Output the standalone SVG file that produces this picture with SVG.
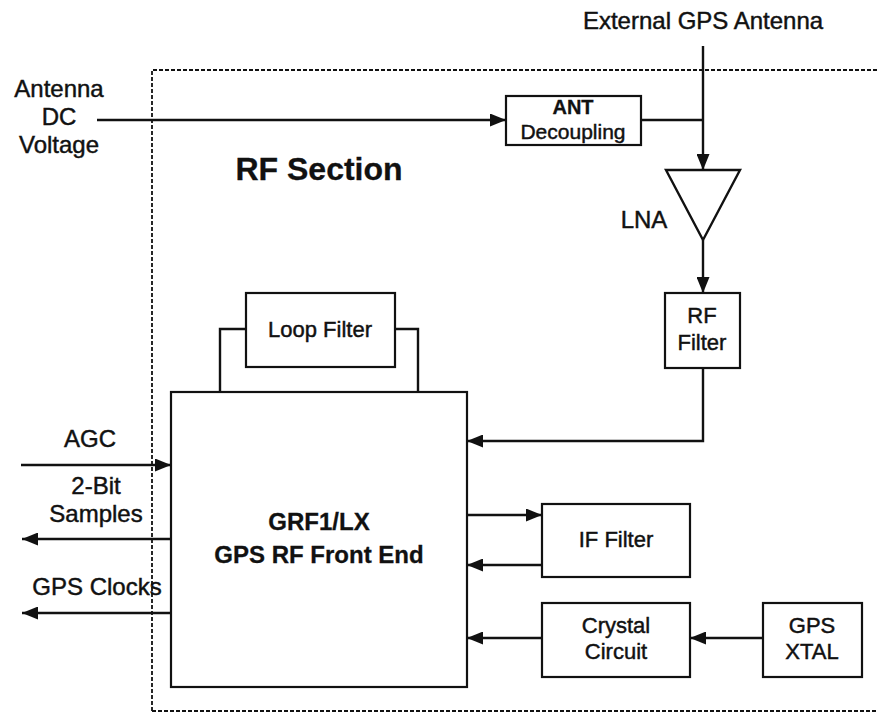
<svg xmlns="http://www.w3.org/2000/svg" width="878" height="715" viewBox="0 0 878 715">
<style>
  text { font-family: "Liberation Sans", Arial, sans-serif; fill: #111; text-anchor: middle; stroke: #111; stroke-width: 0.45; }
  .lbl { font-size: 24px; }
  .box-t { font-size: 22px; }
  .bold { font-weight: bold; stroke-width: 0.3; }
  .box { fill: #fff; stroke: #111; stroke-width: 2.2; }
  .wire { fill: none; stroke: #111; stroke-width: 2.4; }
  .arr { fill: none; stroke: #111; stroke-width: 2.4; marker-end: url(#ah); }
</style>
<defs>
  <marker id="ah" markerUnits="userSpaceOnUse" markerWidth="16" markerHeight="13" refX="16" refY="6.5" orient="auto">
    <path d="M0,0 L16,6.5 L0,13 z" fill="#111"/>
  </marker>
</defs>
<rect width="878" height="715" fill="#fff"/>

<g id="rf-section">
  <path d="M152,711 L152,70 L880,70 M152,711 L880,711" fill="none" stroke="#111" stroke-width="1.8" stroke-dasharray="4,2"/>
  <text class="bold" x="319" y="180" font-size="32">RF Section</text>
</g>

<g id="labels">
  <text class="lbl" x="703" y="29">External GPS Antenna</text>
  <text class="lbl" x="59" y="97">Antenna</text>
  <text class="lbl" x="59" y="125">DC</text>
  <text class="lbl" x="59" y="153">Voltage</text>
  <text class="lbl" x="90" y="447">AGC</text>
  <text class="lbl" x="96" y="494">2-Bit</text>
  <text class="lbl" x="96" y="522">Samples</text>
  <text class="lbl" x="97" y="595">GPS Clocks</text>
</g>

<g id="ant-decoupling">
  <rect class="box" x="506" y="96" width="135" height="49"/>
  <text class="bold" x="573" y="114" font-size="20">ANT</text>
  <text x="573" y="139" font-size="21">Decoupling</text>
</g>

<g id="lna">
  <polygon points="666,170 740,170 703,240" fill="#fff" stroke="#111" stroke-width="2.4"/>
  <text class="lbl" x="644" y="228">LNA</text>
</g>

<g id="rf-filter">
  <rect class="box" x="665" y="293" width="75" height="75"/>
  <text class="box-t" x="702" y="323">RF</text>
  <text class="box-t" x="702" y="350">Filter</text>
</g>

<g id="loop-filter">
  <rect class="box" x="246" y="293" width="149" height="74"/>
  <text class="box-t" x="320" y="337">Loop Filter</text>
</g>

<g id="grf1">
  <rect class="box" x="171" y="392" width="296" height="295"/>
  <text class="bold" x="319" y="530" font-size="24">GRF1/LX</text>
  <text class="bold" x="319" y="563" font-size="24">GPS RF Front End</text>
</g>

<g id="if-filter">
  <rect class="box" x="542" y="504" width="148" height="73"/>
  <text class="box-t" x="616" y="547">IF Filter</text>
</g>

<g id="crystal-circuit">
  <rect class="box" x="542" y="603" width="148" height="74"/>
  <text class="box-t" x="616" y="633">Crystal</text>
  <text class="box-t" x="616" y="659">Circuit</text>
</g>

<g id="gps-xtal">
  <rect class="box" x="763" y="603" width="99" height="74"/>
  <text class="box-t" x="812" y="633">GPS</text>
  <text class="box-t" x="812" y="659">XTAL</text>
</g>

<g id="connectors">
  <path class="arr" d="M703,46 L703,170"/>
  <path class="wire" d="M641,120 L703,120"/>
  <path class="arr" d="M97,120 L506,120"/>
  <path class="arr" d="M703,240 L703,293"/>
  <path class="arr" d="M703,368 L703,441 L467,441"/>
  <path class="wire" d="M246,329 L220,329 L220,392"/>
  <path class="wire" d="M395,329 L418,329 L418,392"/>
  <path class="arr" d="M21,465 L171,465"/>
  <path class="arr" d="M171,539 L22,539"/>
  <path class="arr" d="M171,613 L22,613"/>
  <path class="arr" d="M467,515 L542,515"/>
  <path class="arr" d="M542,565 L467,565"/>
  <path class="arr" d="M542,638 L467,638"/>
  <path class="arr" d="M763,638 L690,638"/>
</g>
</svg>
